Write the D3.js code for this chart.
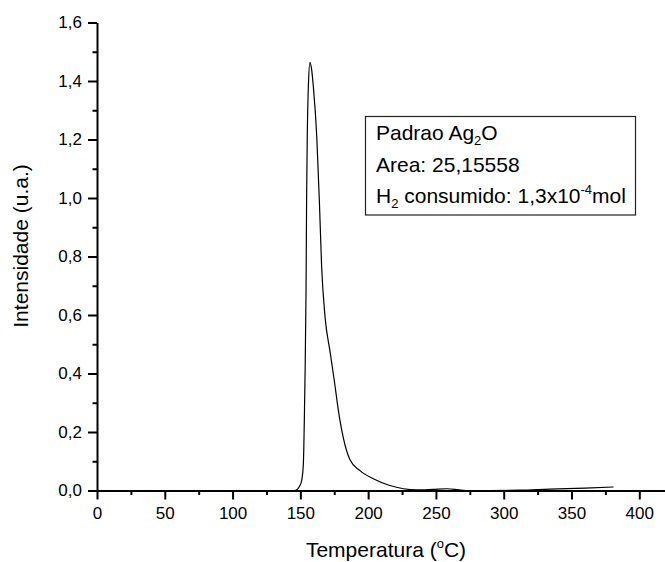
<!DOCTYPE html>
<html>
<head>
<meta charset="utf-8">
<script src="https://cdn.jsdelivr.net/npm/d3@7"></script>
<style>
  body { margin: 0; background: #fff; }
  svg { display: block; font-family: "Liberation Sans", Arial, sans-serif; }
</style>
</head>
<body>
<div id="chart"></div>
<script>
// TPR curve
const temps = [30, 100, 140, 146, 149.7, 151, 152.2, 153, 153.4, 154.2, 154.6, 155.1, 155.9, 157.1, 158.3,
  159.6, 162.1, 164, 165.7, 168.2, 171.9, 175.2, 178, 181.7, 186.6, 194, 203.8, 216, 226, 236,
  248, 258, 266, 272, 290, 312, 334, 360, 381];
const intensity = [0, 0, 0, 0, 0.017, 0.035, 0.09, 0.26, 0.377, 0.685, 0.993, 1.21, 1.38, 1.464, 1.44,
  1.38, 1.21, 0.993, 0.765, 0.594, 0.475, 0.37, 0.275, 0.18, 0.105, 0.068, 0.04, 0.017, 0.006, 0.002,
  0.004, 0.006, 0.003, 0, 0, 0.001, 0.005, 0.008, 0.012];

const xTicks = [0, 50, 100, 150, 200, 250, 300, 350, 400];
const xMinor = [25, 75, 125, 175, 225, 275, 325, 375];
const yTicks = [0, 0.2, 0.4, 0.6, 0.8, 1.0, 1.2, 1.4, 1.6];
const yMinor = [0.1, 0.3, 0.5, 0.7, 0.9, 1.1, 1.3, 1.5];

const width = 665, height = 562;

const svg = d3.select("#chart")
  .append("svg")
    .attr("width", width)
    .attr("height", height);

const x = d3.scaleLinear().domain([0, 420]).range([97, 666.4]);
const y = d3.scaleLinear().domain([0, 1.6]).range([490.5, 22.5]);

const fmt = d => d3.format(".1f")(d).replace(".", ",");

// minor ticks
svg.append("g")
  .attr("class", "minor")
  .attr("transform", `translate(0,${y(0)})`)
  .call(d3.axisBottom(x).tickValues(xMinor).tickSize(4.5).tickFormat(""));
svg.append("g")
  .attr("class", "minor")
  .attr("transform", `translate(${x(0)},0)`)
  .call(d3.axisLeft(y).tickValues(yMinor).tickSize(4.5).tickFormat(""));

// major axes
svg.append("g")
  .attr("transform", `translate(0,${y(0)})`)
  .call(d3.axisBottom(x).tickValues(xTicks).tickSize(9).tickSizeOuter(0).tickPadding(7));

svg.append("g")
  .attr("transform", `translate(${x(0)},0)`)
  .call(d3.axisLeft(y).tickValues(yTicks).tickSize(9).tickSizeOuter(0).tickPadding(6).tickFormat(fmt));

svg.selectAll(".minor .domain").remove();
svg.selectAll(".tick line").attr("stroke", "#000").attr("stroke-width", 2);
svg.selectAll(".domain").attr("stroke", "#000").attr("stroke-width", 2);
svg.selectAll(".tick text").attr("fill", "#000").style("font-size", "17px")
  .style("font-family", "'Liberation Sans', Arial, sans-serif");

// curve
const pts = temps.map((t, i) => [t, intensity[i]]);
svg.append("path")
  .datum(pts)
  .attr("fill", "none")
  .attr("stroke", "#000")
  .attr("stroke-width", 1.2)
  .attr("d", d3.line().x(d => x(d[0])).y(d => y(d[1])).curve(d3.curveMonotoneX));

// axis titles
const xt = svg.append("text")
  .attr("x", 386)
  .attr("y", 557)
  .attr("text-anchor", "middle")
  .style("font-size", "21px")
  .text("Temperatura (");
xt.append("tspan").attr("dy", -9).style("font-size", "13px").text("o");
xt.append("tspan").attr("dy", 9).text("C)");

svg.append("text")
  .attr("transform", "rotate(-90)")
  .attr("x", -246)
  .attr("y", 28)
  .attr("text-anchor", "middle")
  .style("font-size", "21px")
  .text("Intensidade (u.a.)");

// annotation box
const box = svg.append("g");
box.append("rect")
  .attr("x", 365.5)
  .attr("y", 116.5)
  .attr("width", 270)
  .attr("height", 98.5)
  .attr("fill", "#fff")
  .attr("stroke", "#222")
  .attr("stroke-width", 1.2);

const l1 = box.append("text").attr("x", 376).attr("y", 140).style("font-size", "21px").text("Padrao Ag");
l1.append("tspan").attr("dy", 5).style("font-size", "13px").text("2");
l1.append("tspan").attr("dy", -5).text("O");

box.append("text").attr("x", 376).attr("y", 172).style("font-size", "21px").text("Area: 25,15558");

const l3 = box.append("text").attr("x", 376).attr("y", 203).style("font-size", "21px").text("H");
l3.append("tspan").attr("dy", 5).style("font-size", "13px").text("2");
l3.append("tspan").attr("dy", -5).text(" consumido: 1,3x10");
l3.append("tspan").attr("dy", -9).style("font-size", "13px").text("-4");
l3.append("tspan").attr("dy", 9).text("mol");
</script>
</body>
</html>
